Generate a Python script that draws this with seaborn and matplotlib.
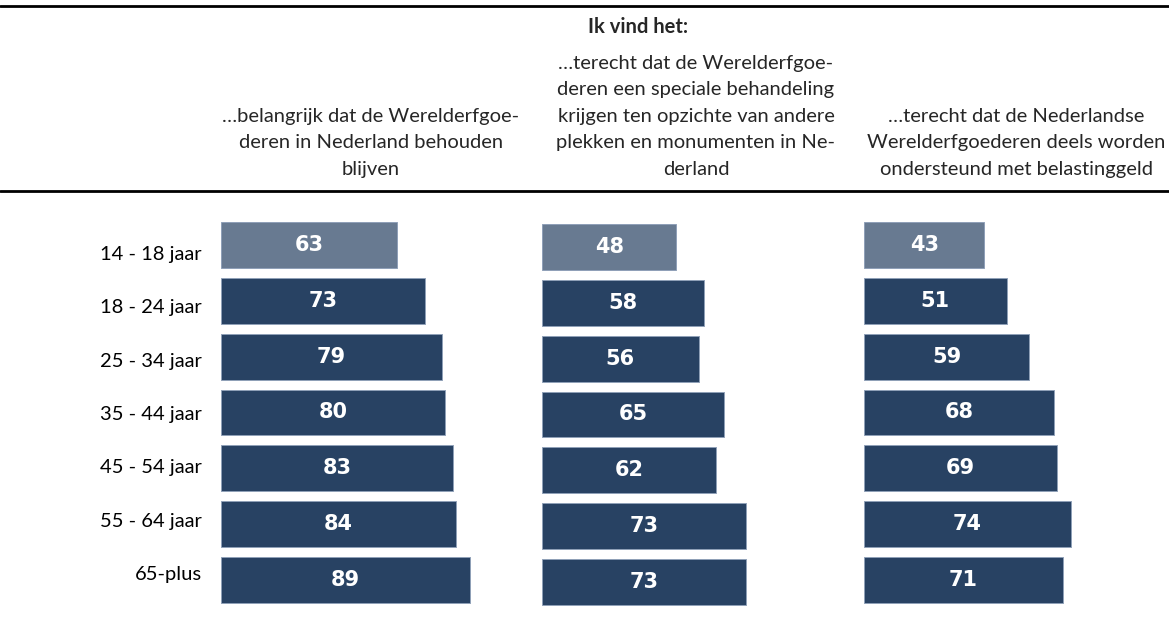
import matplotlib
matplotlib.use('Agg')
import matplotlib.pyplot as plt
from matplotlib.lines import Line2D
import seaborn as sns
import pandas as pd

# ---------------- data ----------------
categories = ["14 - 18 jaar", "18 - 24 jaar", "25 - 34 jaar", "35 - 44 jaar",
              "45 - 54 jaar", "55 - 64 jaar", "65-plus"]
behouden = [63, 73, 79, 80, 83, 84, 89]
speciale_behandeling = [48, 58, 56, 65, 62, 73, 73]
belastinggeld = [43, 51, 59, 68, 69, 74, 71]

header = "Ik vind het:"
column_titles = [
    "…belangrijk dat de Werelderfgoe-\nderen in Nederland behouden\nblijven",
    "…terecht dat de Werelderfgoe-\nderen een speciale behandeling\nkrijgen ten opzichte van andere\nplekken en monumenten in Ne-\nderland",
    "…terecht dat de Nederlandse\nWerelderfgoederen deels worden\nondersteund met belastinggeld",
]
series = [behouden, speciale_behandeling, belastinggeld]

# ---------------- style ----------------
sns.set_theme(style='white')
plt.rcParams['font.family'] = ['Lato', 'DejaVu Sans']

W, H = 1169, 634
fig = plt.figure(figsize=(W / 100, H / 100), dpi=100)

light = '#687A91'
dark = '#284263'
palette = [light] + [dark] * (len(categories) - 1)

px_per_unit = 2.8
xmax = 110
axw = xmax * px_per_unit
starts = [221, 542, 864]
yshift = [0, 2, 0]
row_top, row_bottom = 217, 608

for i, vals in enumerate(series):
    df = pd.DataFrame({'cat': categories, 'val': vals})
    ax = fig.add_axes([starts[i] / W, 1 - (row_bottom + yshift[i]) / H,
                       axw / W, (row_bottom - row_top) / H])
    sns.barplot(data=df, x='val', y='cat', hue='cat', palette=palette,
                orient='h', width=0.82, legend=False, ax=ax, saturation=1,
                edgecolor='#8FA0B8', linewidth=0.7)
    ax.set_xlim(0, xmax)
    ax.set_ylim(len(categories) - 0.5, -0.5)
    for c in ax.containers:
        ax.bar_label(c, labels=[f'{v:.0f}' for v in c.datavalues],
                     label_type='center', color='white', fontweight='bold',
                     fontsize=15, family='DejaVu Sans')
    ax.set_xlabel('')
    ax.set_ylabel('')
    ax.set_xticks([])
    ax.set_yticks([])
    for s in ax.spines.values():
        s.set_visible(False)
    ax.patch.set_alpha(0)

# category labels axis
lab_top, lab_bottom = 226, 600
lax = fig.add_axes([0, 1 - lab_bottom / H, 202 / W, (lab_bottom - lab_top) / H])
lax.set_ylim(len(categories) - 0.5, -0.5)
lax.set_yticks(range(len(categories)))
lax.set_yticklabels(categories, fontsize=14.5, color='black')
lax.yaxis.tick_right()
lax.tick_params(axis='y', length=0, pad=0)
for lbl in lax.get_yticklabels():
    lbl.set_horizontalalignment('right')
lax.set_xticks([])
for s in lax.spines.values():
    s.set_visible(False)
lax.patch.set_alpha(0)

# header lines
fig.add_artist(Line2D([0, 1], [1 - 6 / H] * 2, transform=fig.transFigure,
                      color='black', lw=2))
fig.add_artist(Line2D([0, 1], [1 - 190.5 / H] * 2, transform=fig.transFigure,
                      color='black', lw=2))

fig.text(638 / W, 1 - 27 / H, header, ha='center', va='center',
         fontweight='bold', fontsize=14.5)
centers = [371, 696, 1016]
for cx, t in zip(centers, column_titles):
    fig.text(cx / W, 1 - 178 / H, t, ha='center', va='bottom',
             fontsize=14.5, linespacing=1.68)

fig.savefig('out.png', dpi=100)
